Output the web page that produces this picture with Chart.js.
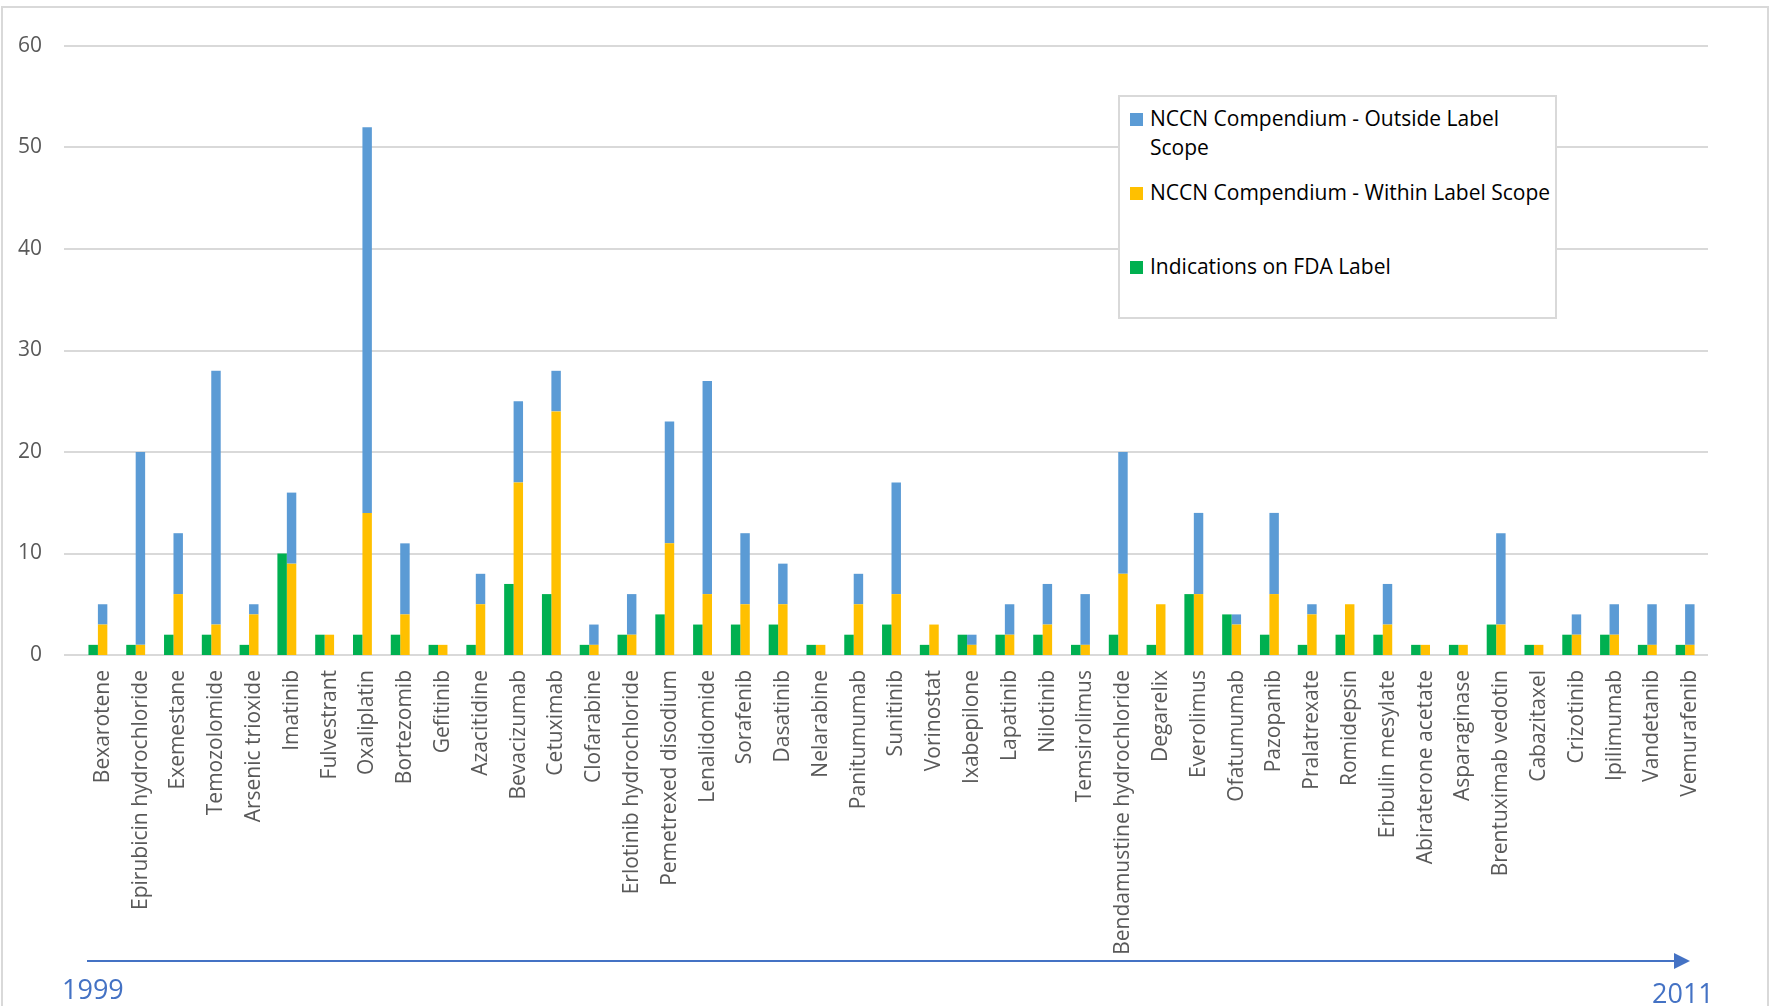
<!DOCTYPE html>
<html>
<head>
<meta charset="utf-8">
<script src="https://cdn.jsdelivr.net/npm/chart.js@4.4.1/dist/chart.umd.min.js"></script>
<style>
  body { margin: 0; background: #fff; font-family: 'Open Sans', sans-serif; }
  #wrap { position: relative; width: 1772px; height: 1006px; overflow: hidden; }
  #frame { position: absolute; left: 1px; top: 6px; width: 1764px; height: 1100px; border: 2px solid #d9d9d9; }
  canvas { position: absolute; left: 0; top: 0; }
  #legend { position: absolute; left: 1118px; top: 95px; width: 435px; height: 220px; border: 2px solid #d9d9d9; background: #fff; }
  .item { position: absolute; left: 30px; font-size: 21px; line-height: 29px; color: #000; white-space: nowrap; }
  .item.wrap { width: 400px; white-space: normal; }
  .item i { position: absolute; left: -20px; top: 9px; width: 13px; height: 13px; }
  .year { position: absolute; font-size: 27px; line-height: 27px; color: #4472C4; }
</style>
</head>
<body>
<div id="wrap">
  <div id="frame"></div>
  <canvas id="chart" width="1772" height="1006"></canvas>
  <div id="legend"></div>
  <div class="year" style="left:62px; top:975px;">1999</div>
  <div class="year" style="left:1652px; top:979px;">2011</div>
</div>
<script>
const drugs = ["Bexarotene", "Epirubicin hydrochloride", "Exemestane", "Temozolomide", "Arsenic trioxide",
  "Imatinib", "Fulvestrant", "Oxaliplatin", "Bortezomib", "Gefitinib", "Azacitidine", "Bevacizumab",
  "Cetuximab", "Clofarabine", "Erlotinib hydrochloride", "Pemetrexed disodium", "Lenalidomide",
  "Sorafenib", "Dasatinib", "Nelarabine", "Panitumumab", "Sunitinib", "Vorinostat", "Ixabepilone",
  "Lapatinib", "Nilotinib", "Temsirolimus", "Bendamustine hydrochloride", "Degarelix", "Everolimus",
  "Ofatumumab", "Pazopanib", "Pralatrexate", "Romidepsin", "Eribulin mesylate", "Abiraterone acetate",
  "Asparaginase", "Brentuximab vedotin", "Cabazitaxel", "Crizotinib", "Ipilimumab", "Vandetanib",
  "Vemurafenib"];

const fdaLabel     = [1, 1, 2, 2, 1, 10, 2, 2, 2, 1, 1, 7, 6, 1, 2, 4, 3, 3, 3, 1, 2, 3, 1, 2, 2, 2, 1, 2, 1, 6, 4, 2, 1, 2, 2, 1, 1, 3, 1, 2, 2, 1, 1];
const withinScope  = [3, 1, 6, 3, 4, 9, 2, 14, 4, 1, 5, 17, 24, 1, 2, 11, 6, 5, 5, 1, 5, 6, 3, 1, 2, 3, 1, 8, 5, 6, 3, 6, 4, 5, 3, 1, 1, 3, 1, 2, 2, 1, 1];
const outsideScope = [2, 19, 6, 25, 1, 7, 0, 38, 7, 0, 3, 8, 4, 2, 4, 12, 21, 7, 4, 0, 3, 11, 0, 1, 3, 4, 5, 12, 0, 8, 1, 8, 1, 0, 4, 0, 0, 9, 0, 2, 3, 4, 4];

const yTicks = [0, 10, 20, 30, 40, 50, 60];

Chart.defaults.font.family = "'Open Sans', sans-serif";
Chart.defaults.color = '#595959';

// own gridlines, they run a bit wider than the plot area in the original
const gridPlugin = {
    id: 'grid',
    beforeDatasetsDraw(chart) {
        const ctx = chart.ctx;
        const y = chart.scales.y;
        ctx.save();
        ctx.strokeStyle = '#d9d9d9';
        ctx.lineWidth = 2;
        yTicks.forEach(v => {
            const py = Math.round(y.getPixelForValue(v));
            ctx.beginPath();
            ctx.moveTo(64, py);
            ctx.lineTo(1708, py);
            ctx.stroke();
        });
        ctx.restore();
    }
};

// timeline arrow under the labels
const arrowPlugin = {
    id: 'arrow',
    afterDraw(chart) {
        const ctx = chart.ctx;
        ctx.save();
        ctx.strokeStyle = '#4472C4';
        ctx.fillStyle = '#4472C4';
        ctx.lineWidth = 2;
        ctx.beginPath();
        ctx.moveTo(87, 961);
        ctx.lineTo(1676, 961);
        ctx.stroke();
        ctx.beginPath();
        ctx.moveTo(1674, 953);
        ctx.lineTo(1690, 961);
        ctx.lineTo(1674, 969);
        ctx.closePath();
        ctx.fill();
        ctx.restore();
    }
};

const chart = new Chart(document.getElementById('chart'), {
    type: 'bar',
    data: {
        labels: drugs,
        datasets: [
            { label: 'Indications on FDA Label', data: fdaLabel, backgroundColor: '#00B050', stack: 'fda' },
            { label: 'NCCN Compendium - Within Label Scope', data: withinScope, backgroundColor: '#FFC000', stack: 'nccn' },
            { label: 'NCCN Compendium - Outside Label Scope', data: outsideScope, backgroundColor: '#5B9BD5', stack: 'nccn' }
        ]
    },
    options: {
        responsive: false,
        animation: false,
        devicePixelRatio: 1,
        layout: { padding: { left: 0, right: 68, top: 46, bottom: 0 } },
        datasets: { bar: { categoryPercentage: 0.5, barPercentage: 1.0 } },
        plugins: {
            legend: { display: false },
            tooltip: { enabled: false }
        },
        scales: {
            x: {
                stacked: true,
                grid: { display: false, drawTicks: false },
                border: { display: false },
                ticks: {
                    autoSkip: false,
                    minRotation: 90,
                    maxRotation: 90,
                    padding: 15,
                    labelOffset: 5,
                    color: '#595959',
                    font: { size: 21 }
                },
                afterFit: (s) => { s.height = 351; s.paddingLeft = 0; s.paddingRight = 0; }
            },
            y: {
                stacked: true,
                min: 0,
                max: 60,
                grid: { display: false, drawTicks: false },
                border: { display: false },
                ticks: {
                    stepSize: 10,
                    padding: 37,
                    color: '#595959',
                    font: { size: 21 }
                },
                afterFit: (s) => { s.width = 79; s.paddingTop = 0; s.paddingBottom = 0; }
            }
        }
    },
    plugins: [gridPlugin, arrowPlugin]
});

// legend box, order as in the original
const legend = document.getElementById('legend');
const rowTops = [7, 81, 155];
[2, 1, 0].forEach((di, k) => {
    const ds = chart.data.datasets[di];
    const row = document.createElement('div');
    row.className = k === 0 ? 'item wrap' : 'item';
    row.style.top = rowTops[k] + 'px';
    row.innerHTML = '<i style="background:' + ds.backgroundColor + '"></i>' + ds.label;
    legend.appendChild(row);
});
</script>
</body>
</html>
